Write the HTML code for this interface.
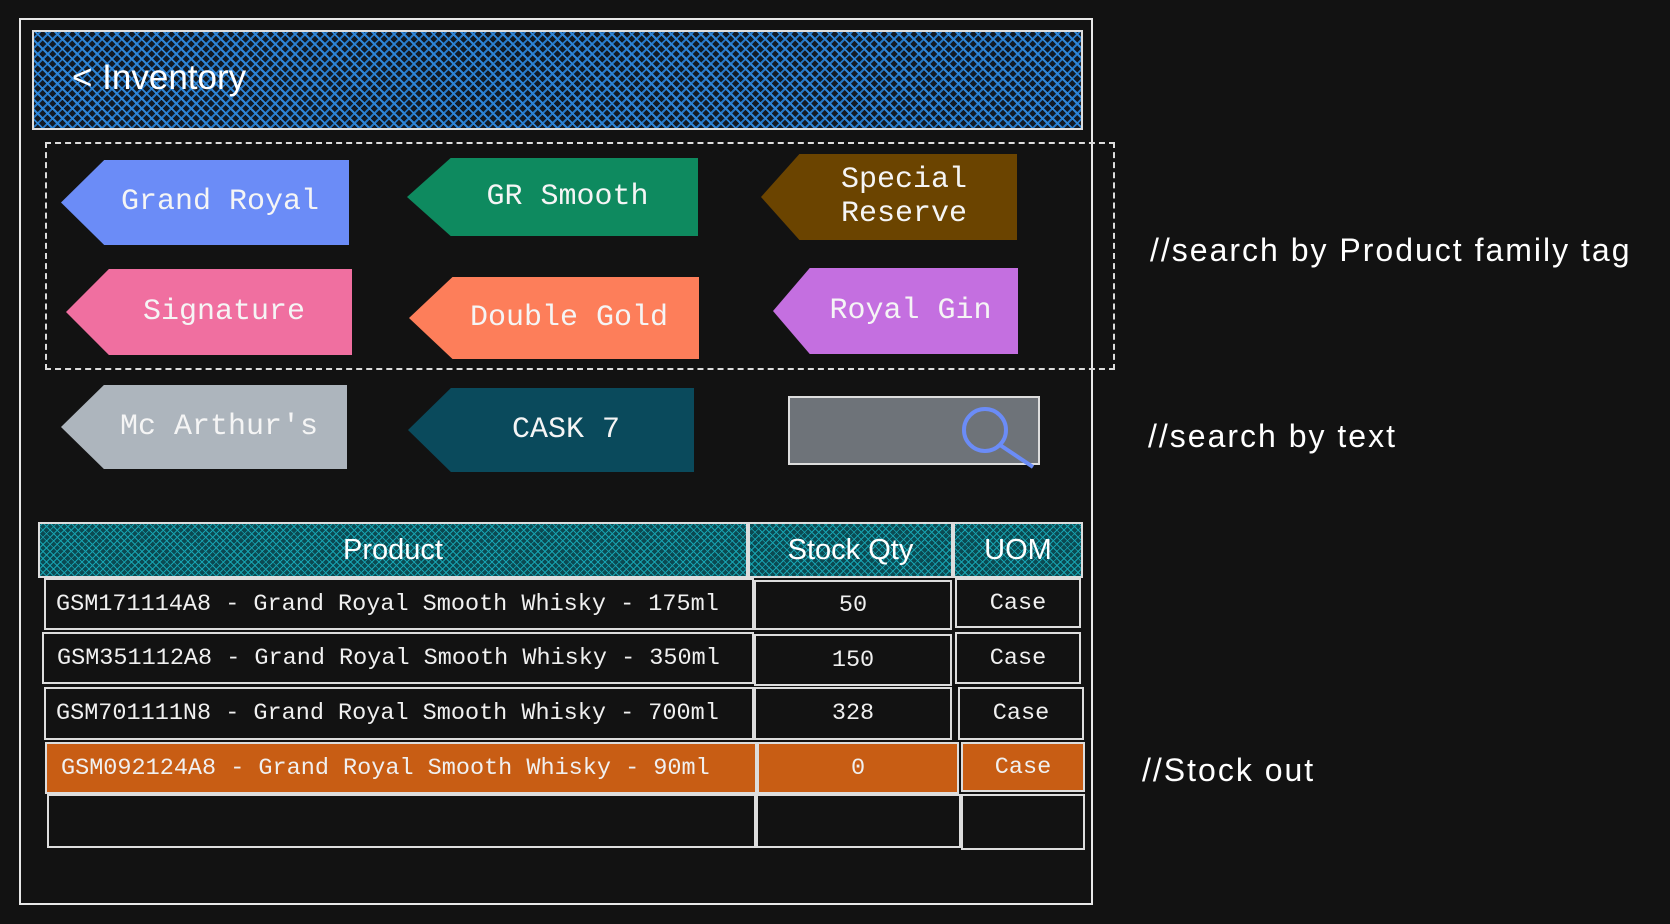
<!DOCTYPE html>
<html><head><meta charset="utf-8"><style>
body{margin:0;background:#121212;width:1670px;height:924px;overflow:hidden;position:relative;font-family:"Liberation Sans",sans-serif}
.a{position:absolute;box-sizing:border-box}
.frame{left:19px;top:18px;width:1074px;height:887px;border:2px solid #e8e8e8}
.hdr{left:32px;top:30px;width:1051px;height:100px;border:2px solid #ddd;background:repeating-linear-gradient(45deg,transparent 0 5px,#2f86d8 5px 7px),repeating-linear-gradient(-45deg,transparent 0 5px,#2677c4 5px 7px),#121a24;}
.dash{left:45px;top:142px;width:1070px;height:228px;border:2px dashed #ddd}
.tag{display:flex;align-items:center;justify-content:center;color:#f5f5f5;font-family:"Liberation Mono",monospace;font-size:30px;clip-path:polygon(15% 0,100% 0,100% 100%,15% 100%,0 50%);padding-left:30px;text-align:center;line-height:1.15}
.th{background:#0b4a52;border:2px solid #ddd;color:#fff;font-size:29px;display:flex;align-items:center;justify-content:center}
.th::before{content:"";position:absolute;inset:0;background:repeating-linear-gradient(45deg,transparent 0 4px,#17a2b0 4px 5px),repeating-linear-gradient(-45deg,transparent 0 4px,#17a2b0 4px 5px)}
.th span{position:relative}
.td{border:2px solid #ddd;color:#f0f0f0;font-family:"Liberation Mono",monospace;font-size:23.5px;display:flex;align-items:center;white-space:nowrap}
.c{justify-content:center}
.o{background:#c85d14}
.note{color:#fff;font-size:32px;letter-spacing:2px;white-space:nowrap}
</style></head><body>
<div class="a frame"></div>
<div class="a hdr"></div>
<div class="a" style="left:72px;top:58px;color:#fff;font-size:35px">&lt; Inventory</div>
<div class="a dash"></div>
<div class="a tag" style="left:61px;top:160px;width:288px;height:85px;background:#6b8cf7">Grand Royal</div>
<div class="a tag" style="left:407px;top:158px;width:291px;height:78px;background:#0e8a5f">GR Smooth</div>
<div class="a tag" style="left:761px;top:154px;width:256px;height:86px;background:#6b4400">Special<br>Reserve</div>
<div class="a tag" style="left:66px;top:269px;width:286px;height:86px;background:#f06fa0">Signature</div>
<div class="a tag" style="left:409px;top:277px;width:290px;height:82px;background:#fd7e5a">Double Gold</div>
<div class="a tag" style="left:773px;top:268px;width:245px;height:86px;background:#c46fe0">Royal Gin</div>
<div class="a tag" style="left:61px;top:385px;width:286px;height:84px;background:#adb5bd">Mc Arthur's</div>
<div class="a tag" style="left:408px;top:388px;width:286px;height:84px;background:#0a4a5c">CASK 7</div>
<div class="a" style="left:788px;top:396px;width:252px;height:69px;background:#6e7379;border:2px solid #ddd"></div>
<svg class="a" style="left:955px;top:405px" width="90" height="70"><circle cx="30" cy="25" r="21" fill="none" stroke="#6b8cf7" stroke-width="4"/><line x1="45" y1="40" x2="78" y2="62" stroke="#6b8cf7" stroke-width="4"/></svg>
<div class="a th" style="left:38px;top:522px;width:710px;height:56px"><span>Product</span></div>
<div class="a th" style="left:748px;top:522px;width:205px;height:56px"><span>Stock Qty</span></div>
<div class="a th" style="left:953px;top:522px;width:130px;height:56px"><span>UOM</span></div>

<div class="a td" style="left:44px;top:578px;width:710px;height:52px;padding-left:10px">GSM171114A8 - Grand Royal Smooth Whisky - 175ml</div>
<div class="a td c" style="left:754px;top:580px;width:198px;height:50px">50</div>
<div class="a td c" style="left:955px;top:578px;width:126px;height:50px">Case</div>
<div class="a td" style="left:42px;top:632px;width:712px;height:52px;padding-left:13px">GSM351112A8 - Grand Royal Smooth Whisky - 350ml</div>
<div class="a td c" style="left:754px;top:634px;width:198px;height:52px">150</div>
<div class="a td c" style="left:955px;top:632px;width:126px;height:52px">Case</div>
<div class="a td" style="left:44px;top:687px;width:710px;height:53px;padding-left:10px">GSM701111N8 - Grand Royal Smooth Whisky - 700ml</div>
<div class="a td c" style="left:754px;top:687px;width:198px;height:53px">328</div>
<div class="a td c" style="left:958px;top:687px;width:126px;height:53px">Case</div>
<div class="a td o" style="left:45px;top:742px;width:712px;height:52px;padding-left:14px">GSM092124A8 - Grand Royal Smooth Whisky - 90ml</div>
<div class="a td c o" style="left:757px;top:742px;width:202px;height:52px">0</div>
<div class="a td c o" style="left:961px;top:742px;width:124px;height:50px">Case</div>
<div class="a td" style="left:47px;top:794px;width:709px;height:54px"></div>
<div class="a td" style="left:756px;top:794px;width:205px;height:54px"></div>
<div class="a td" style="left:961px;top:794px;width:124px;height:56px"></div>

<div class="a note" style="left:1150px;top:232px">//search by Product family tag</div>
<div class="a note" style="left:1148px;top:418px">//search by text</div>
<div class="a note" style="left:1142px;top:752px">//Stock out</div>
</body></html>
